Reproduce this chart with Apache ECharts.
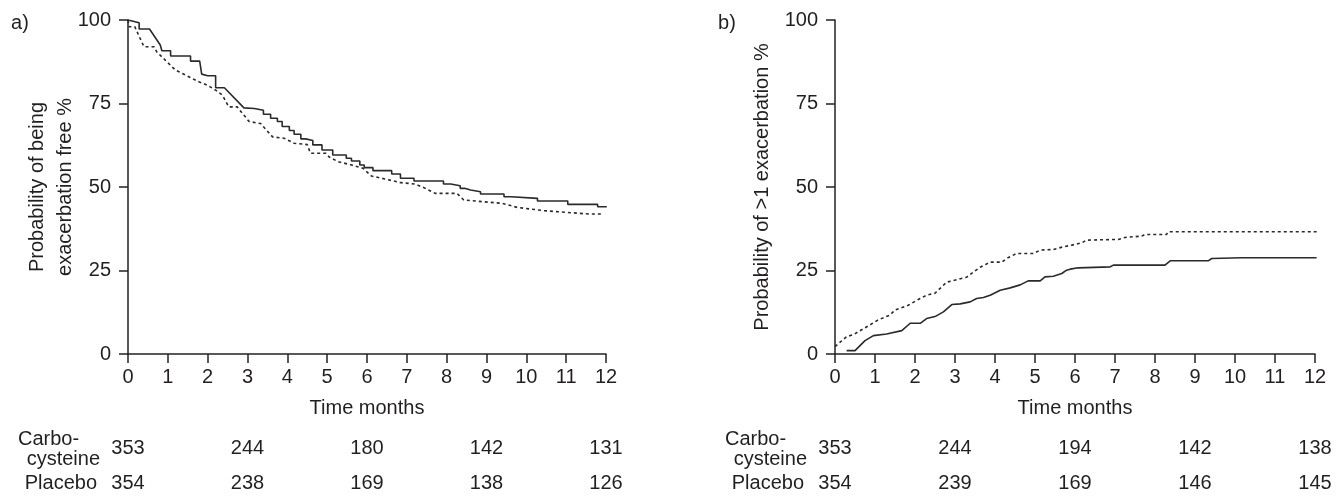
<!DOCTYPE html>
<html><head><meta charset="utf-8">
<script src="https://cdn.jsdelivr.net/npm/echarts@6/dist/echarts.min.js"></script>
<style>html,body{margin:0;padding:0;background:#fff}#c{width:1343px;height:497px}</style>
</head><body><div id="c"></div>
<script>
// ---- data ----
const xTicks = [0,1,2,3,4,5,6,7,8,9,10,11,12];
const yTicks = [0,25,50,75,100];
const riskTimes = [0,3,6,9,12];

// Panel a: probability of being exacerbation free (%)
const aCarbo = [[0,100],[0.28,99.2],[0.28,97.3],[0.54,97.3],[0.81,92.5],[0.85,90.8],[1.07,90.8],[1.07,89.2],[1.57,89.2],[1.57,87.7],[1.8,87.7],[1.85,83.8],[2.0,83.3],[2.2,83.3],[2.2,79.7],[2.42,79.7],[2.91,73.7],[3.17,73.5],[3.17,73],[3.4,73],[3.4,71.8],[3.58,71.8],[3.58,70.6],[3.75,70.6],[3.75,69.6],[3.87,69.6],[3.87,68.1],[4.05,68.1],[4.05,66.9],[4.17,66.9],[4.17,65.8],[4.34,65.8],[4.34,64.4],[4.46,64.4],[4.46,63.9],[4.64,63.9],[4.64,62.6],[4.87,62.6],[4.87,61.1],[5.14,61.1],[5.14,59.6],[5.48,59.6],[5.48,58.6],[5.61,58.6],[5.61,57.8],[5.82,57.8],[5.82,56.6],[5.93,56.6],[5.93,55.8],[6.15,55.8],[6.15,54.9],[6.62,54.9],[6.62,53.9],[6.84,53.9],[6.84,52.6],[7.18,52.6],[7.18,51.8],[7.92,51.8],[7.92,50.9],[8.1,50.9],[8.1,50.4],[8.34,50.4],[8.34,49.6],[8.45,49.6],[8.45,49.1],[8.6,49.1],[8.6,48.6],[8.85,48.6],[8.85,47.9],[9.44,47.9],[9.44,47.1],[9.62,47.1],[9.62,46.6],[10.28,46.6],[10.28,45.8],[11.04,45.8],[11.04,44.8],[11.79,44.8],[11.79,44.1],[12.02,44.1]];
const aPlacebo = [[0,100],[0.03,98],[0.17,98],[0.4,92],[0.65,92],[0.72,90.5],[1.19,85],[1.28,84.5],[1.61,82.5],[1.78,81.5],[1.99,80.5],[2.2,79],[2.37,77.5],[2.53,74],[2.74,74],[3.04,69.6],[3.33,69],[3.63,65],[3.92,64.6],[4.17,63.1],[4.5,62.7],[4.58,60.1],[4.97,60.1],[5.05,59.0],[5.27,57.6],[5.61,56.6],[5.9,55.6],[6.11,53.3],[6.45,52.4],[6.85,51.3],[7.2,50.9],[7.41,49.9],[7.71,48.1],[8.26,48.1],[8.43,46.1],[9.39,45.1],[9.77,43.9],[10.45,42.9],[11.58,41.9],[11.92,41.9]];

// Panel b: probability of >1 exacerbation (%)
const bCarbo = [[0.29,1.0],[0.5,1.0],[0.75,4.0],[0.96,5.5],[1.29,6.0],[1.67,7.0],[1.88,9.2],[2.13,9.2],[2.29,10.6],[2.5,11.2],[2.71,12.6],[2.92,14.8],[3.13,15.0],[3.38,15.6],[3.54,16.6],[3.71,16.9],[3.88,17.6],[4.13,19.1],[4.38,19.8],[4.63,20.7],[4.83,21.9],[5.13,21.9],[5.25,23.1],[5.46,23.3],[5.67,24.1],[5.79,25.1],[5.88,25.4],[6.08,25.8],[6.88,26.1],[6.96,26.6],[8.25,26.6],[8.38,27.9],[9.33,27.9],[9.42,28.6],[10.17,28.8],[12.04,28.8]];
const bPlacebo = [[0,2.2],[0.29,5.2],[0.46,5.8],[0.83,8.4],[1.08,10.2],[1.38,11.7],[1.5,13.2],[1.83,14.6],[2.08,16.3],[2.29,17.6],[2.5,18.2],[2.79,21.5],[3.29,23],[3.63,26],[3.88,27.5],[4.17,27.5],[4.29,28.6],[4.54,30.1],[4.96,30.1],[5.13,31.1],[5.46,31.3],[5.71,32.1],[5.92,32.6],[6.17,33.3],[6.29,34.1],[7.08,34.3],[7.25,34.9],[7.67,35.3],[7.75,35.8],[8.29,35.8],[8.33,36.6],[12.04,36.6]];

// Numbers at risk
const riskACarbo = [353,244,180,142,131];
const riskAPlacebo = [354,238,169,138,126];
const riskBCarbo = [353,244,194,142,138];
const riskBPlacebo = [354,239,169,146,145];

const panelLabels = ['a)','b)'];
const yNames = ['Probability of being\nexacerbation free %','Probability of >1 exacerbation %'];
const xName = 'Time months';
const rowCarbo1 = 'Carbo-', rowCarbo2 = 'cysteine', rowPlacebo = 'Placebo';

// ---- styles ----
const FF = '"Liberation Sans", Arial, Helvetica, sans-serif';
const FS = 20;
const TXT = '#231f20';
const AX = '#222';

function xAxis(g){
  return {type:'value', gridIndex:g, min:xTicks[0], max:xTicks[xTicks.length-1], interval:1,
    name:xName, nameLocation:'middle', nameGap:44, nameMoveOverlap:false,
    nameTextStyle:{fontSize:FS,color:TXT,fontFamily:FF},
    axisLine:{onZero:false,lineStyle:{color:AX,width:1.5}},
    axisTick:{length:9,lineStyle:{color:AX,width:1.5}},
    axisLabel:{margin:13,fontSize:FS,color:TXT,fontFamily:FF},
    splitLine:{show:false}};
}
function yAxis(g, gap){
  return {type:'value', gridIndex:g, min:yTicks[0], max:yTicks[yTicks.length-1], interval:25,
    name:yNames[g], nameLocation:'middle', nameGap:gap, nameRotate:90, nameMoveOverlap:false,
    nameTextStyle:{fontSize:FS,color:TXT,fontFamily:FF,lineHeight:28},
    axisLine:{lineStyle:{color:AX,width:1.5}},
    axisTick:{length:9,lineStyle:{color:AX,width:1.5}},
    axisLabel:{margin:17,fontSize:FS,color:TXT,fontFamily:FF},
    splitLine:{show:false}};
}
function line(data, g, dashed){
  return {type:'line', xAxisIndex:g, yAxisIndex:g, data:data, showSymbol:false, symbol:'none',
    animation:false, silent:true,
    lineStyle:{color:'#2a2a2a', width:1.6, type: dashed ? [3,3] : 'solid'}};
}

const chart = echarts.init(document.getElementById('c'), null, {renderer:'canvas'});
chart.setOption({
  backgroundColor:'#fff',
  animation:false,
  grid:[{left:128,top:20,width:478,height:334},{left:835,top:20,width:480,height:334}],
  xAxis:[xAxis(0),xAxis(1)],
  yAxis:[yAxis(0,49),yAxis(1,59)],
  series:[line(aCarbo,0,false),line(aPlacebo,0,true),line(bCarbo,1,false),line(bPlacebo,1,true)]
});

// risk table & panel labels, positioned via axis scales
const graphics = [];
function txt(x,y,s,align){
  graphics.push({type:'text', x:x, y:y, silent:true,
    style:{text:s, fill:TXT, font: FS+'px '+FF, textAlign:align||'center', textVerticalAlign:'middle'}});
}
const tables = [[riskACarbo,riskAPlacebo],[riskBCarbo,riskBPlacebo]];
for (let g=0; g<2; g++){
  const origin = chart.convertToPixel({gridIndex:g},[0,0]);
  const top = chart.convertToPixel({gridIndex:g},[0,100]);
  riskTimes.forEach((t,i)=>{
    const px = chart.convertToPixel({gridIndex:g},[t,0])[0];
    txt(px, 448, String(tables[g][0][i]));
    txt(px, 483, String(tables[g][1][i]));
  });
  txt(origin[0]-110, 439, rowCarbo1, 'left');
  txt(origin[0]-28, 459, rowCarbo2, 'right');
  txt(origin[0]-31, 483, rowPlacebo, 'right');
  txt(origin[0]-108, top[1]+3, panelLabels[g], 'center');
}
chart.setOption({graphic:graphics});
</script></body></html>
